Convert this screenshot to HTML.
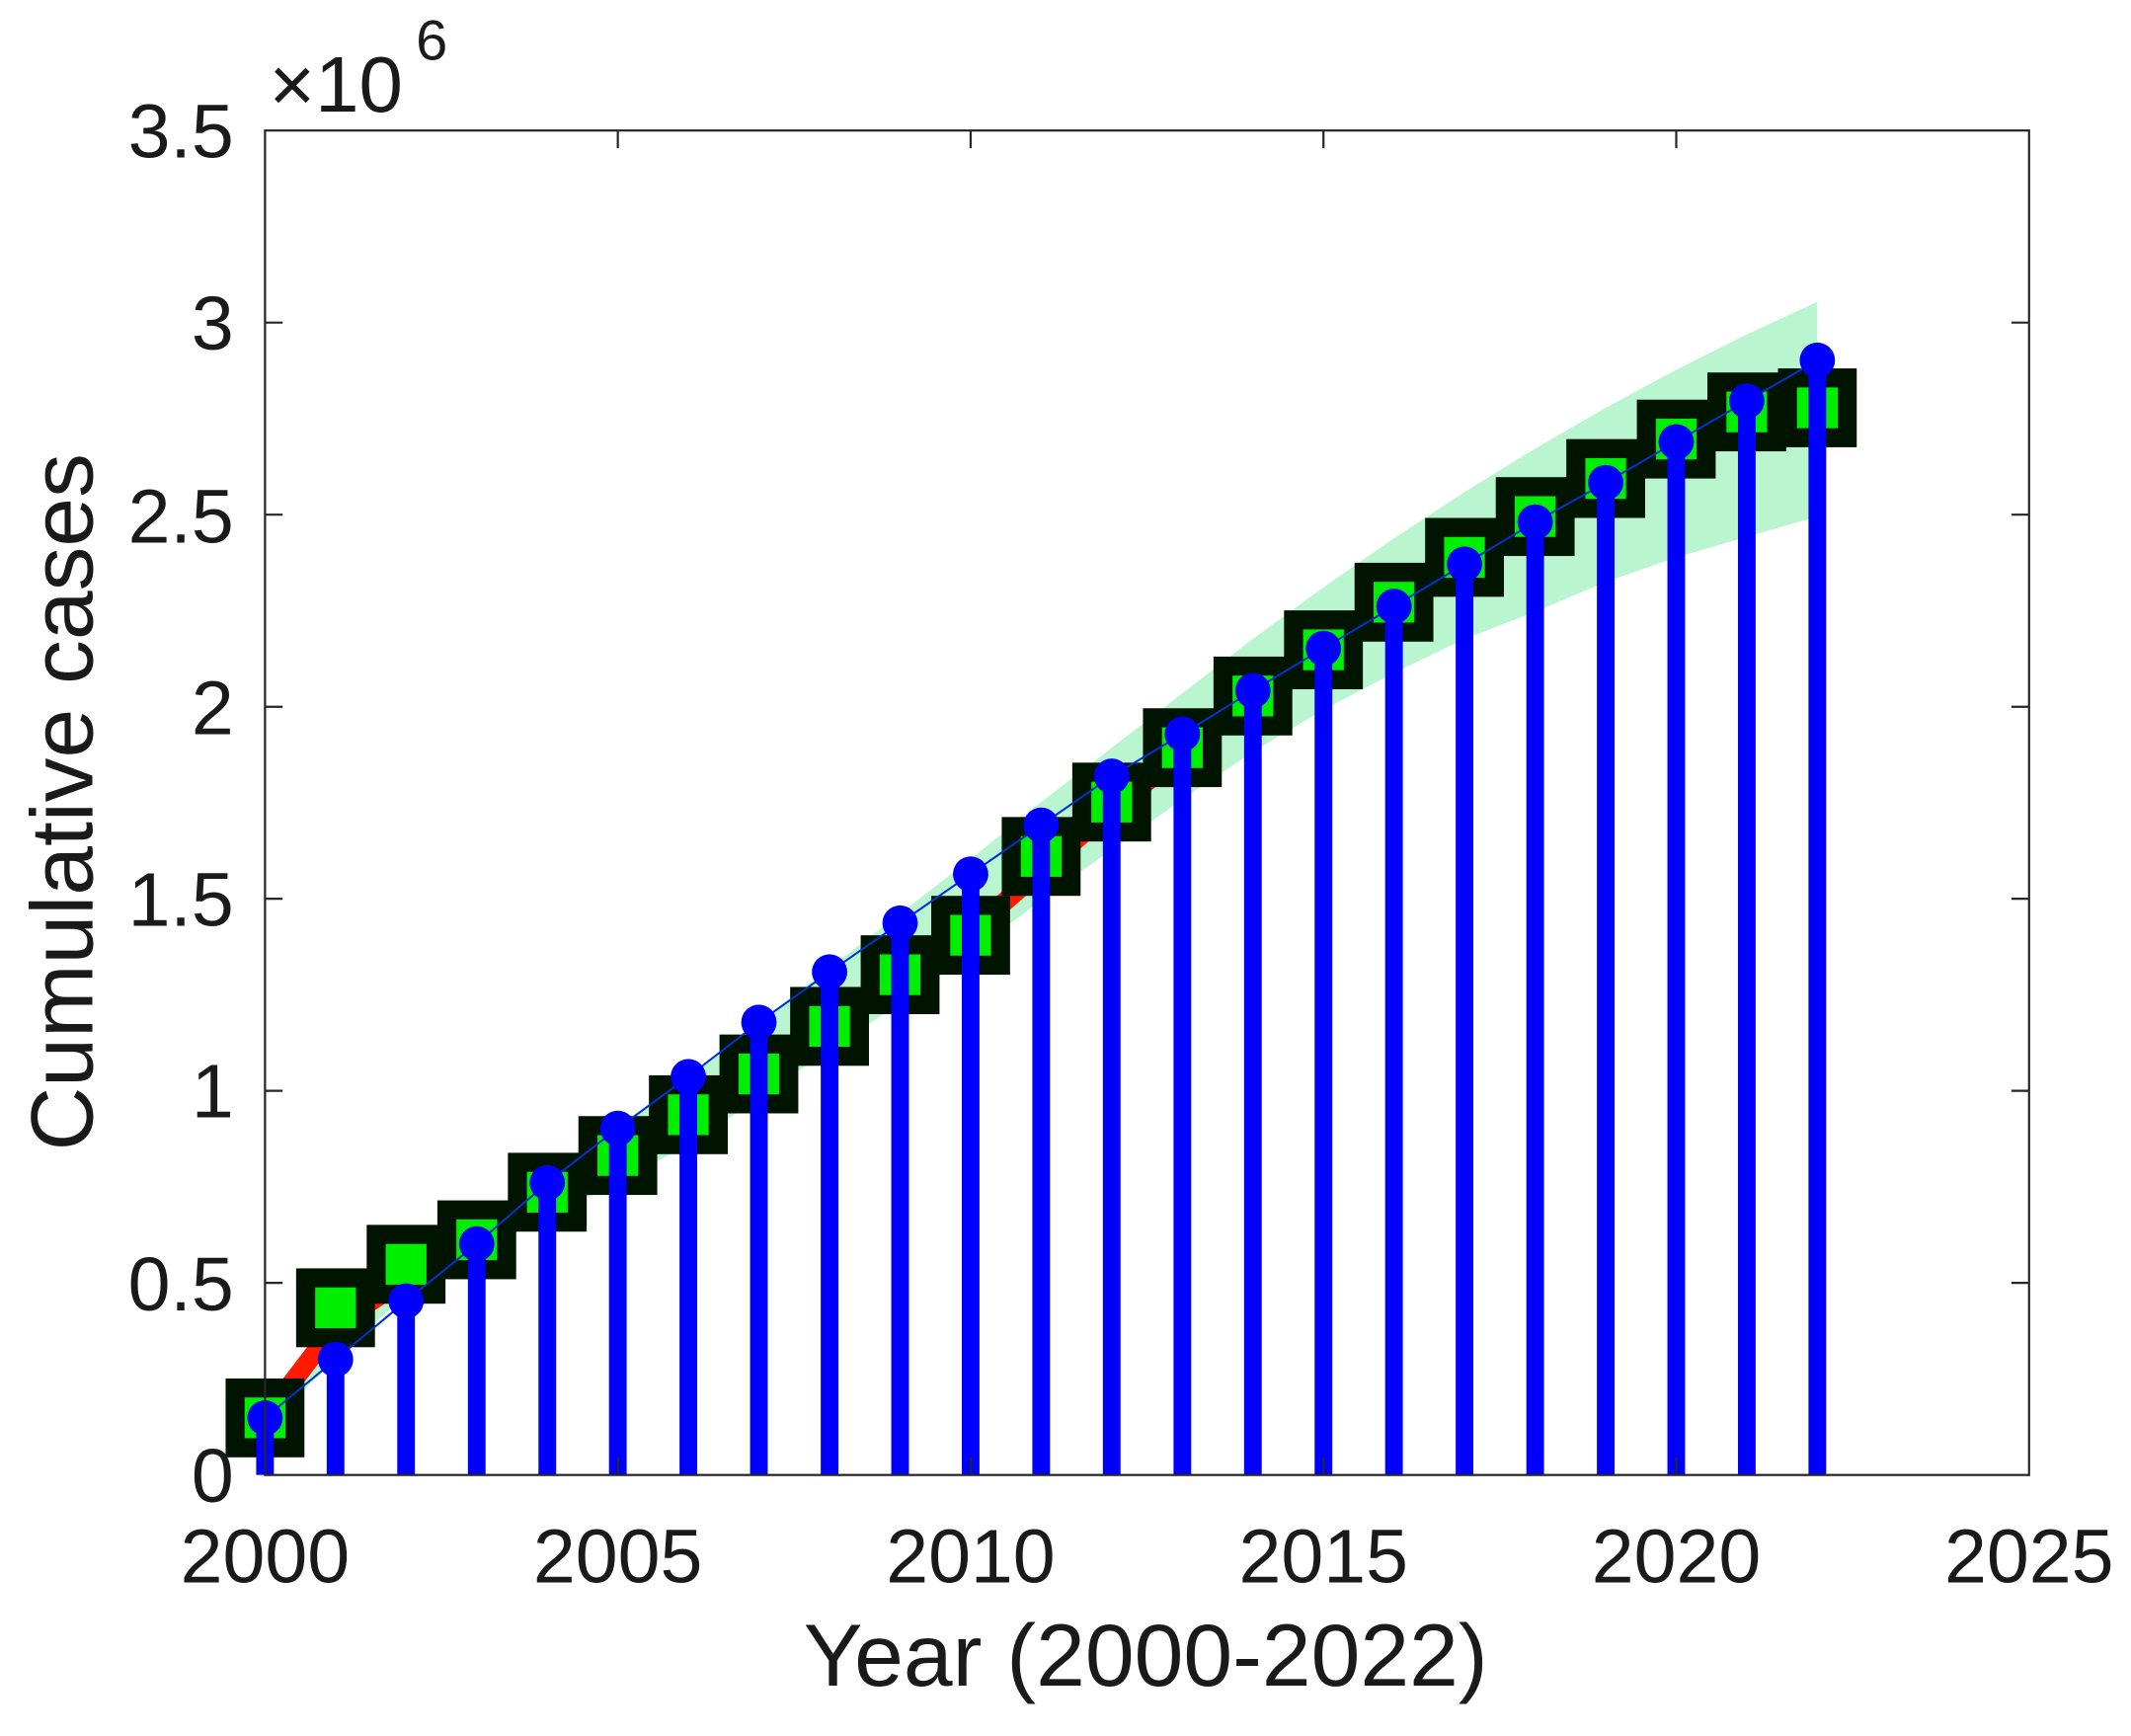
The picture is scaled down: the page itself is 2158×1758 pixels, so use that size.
<!DOCTYPE html>
<html><head><meta charset="utf-8"><style>
html,body{margin:0;padding:0;background:#fff;}
svg{display:block;}
text{font-family:"Liberation Sans",sans-serif;fill:#1a1a1a;}
</style></head><body>
<svg width="2158" height="1758" viewBox="0 0 1568 1277" preserveAspectRatio="none" xmlns="http://www.w3.org/2000/svg">
<rect x="0" y="0" width="1568" height="1277" fill="#fff"/>
<polygon fill="#b9f5cf" points="195,1045 246.9,990 298.8,945 350.8,905 402.7,868 454.6,830 506.5,792 558.4,752 610.4,712 662.3,672 714.2,632 766.1,590 818,550 870,510 921.9,470 973.8,432 1025.7,396 1077.6,362 1129.6,330 1181.5,300 1233.4,272 1285.3,246 1337.2,222 1337.2,380 1285.3,395 1233.4,410 1181.5,428 1129.6,450 1077.6,470 1025.7,495 973.8,522 921.9,553 870,588 818,625 766.1,662 714.2,702 662.3,738 610.4,772 558.4,808 506.5,842 454.6,870 402.7,895 350.8,922 298.8,952 246.9,1000 195,1050"/>
<polyline fill="none" stroke="#ff1a00" stroke-width="14" points="195,1043 246.9,975 298.8,940 350.8,910 402.7,878 454.6,848 506.5,816 558.4,785 610.4,752 662.3,718 714.2,685 766.1,640 818,595 870,555"/>
<g fill="#00ee00" stroke="#001400" stroke-width="14">
<rect x="173" y="1021" width="44" height="44"/>
<rect x="224.9" y="940" width="44" height="44"/>
<rect x="276.8" y="908" width="44" height="44"/>
<rect x="328.8" y="890" width="44" height="44"/>
<rect x="380.7" y="855" width="44" height="44"/>
<rect x="432.6" y="828" width="44" height="44"/>
<rect x="484.5" y="798" width="44" height="44"/>
<rect x="536.4" y="768" width="44" height="44"/>
<rect x="588.4" y="733" width="44" height="44"/>
<rect x="640.3" y="695" width="44" height="44"/>
<rect x="692.2" y="666" width="44" height="44"/>
<rect x="744.1" y="608" width="44" height="44"/>
<rect x="796" y="568" width="44" height="44"/>
<rect x="848" y="528" width="44" height="44"/>
<rect x="899.9" y="490" width="44" height="44"/>
<rect x="951.8" y="456" width="44" height="44"/>
<rect x="1003.7" y="421" width="44" height="44"/>
<rect x="1055.6" y="388" width="44" height="44"/>
<rect x="1107.6" y="358" width="44" height="44"/>
<rect x="1159.5" y="330" width="44" height="44"/>
<rect x="1211.4" y="301" width="44" height="44"/>
<rect x="1263.3" y="281" width="44" height="44"/>
<rect x="1315.2" y="278" width="44" height="44"/>
</g>
<polyline fill="none" stroke="#0033cc" stroke-width="1.5" points="195,1043 246.9,1000 298.8,957 350.8,915 402.7,870 454.6,830 506.5,792 558.4,752 610.4,715 662.3,679 714.2,643 766.1,607 818,571 870,540 921.9,508 973.8,477 1025.7,446 1077.6,415 1129.6,384 1181.5,355 1233.4,325 1285.3,295 1337.2,265"/>
<g stroke="#0000ff" stroke-width="13">
<line x1="195" y1="1085" x2="195" y2="1043"/>
<line x1="246.9" y1="1085" x2="246.9" y2="1000"/>
<line x1="298.8" y1="1085" x2="298.8" y2="957"/>
<line x1="350.8" y1="1085" x2="350.8" y2="915"/>
<line x1="402.7" y1="1085" x2="402.7" y2="870"/>
<line x1="454.6" y1="1085" x2="454.6" y2="830"/>
<line x1="506.5" y1="1085" x2="506.5" y2="792"/>
<line x1="558.4" y1="1085" x2="558.4" y2="752"/>
<line x1="610.4" y1="1085" x2="610.4" y2="715"/>
<line x1="662.3" y1="1085" x2="662.3" y2="679"/>
<line x1="714.2" y1="1085" x2="714.2" y2="643"/>
<line x1="766.1" y1="1085" x2="766.1" y2="607"/>
<line x1="818" y1="1085" x2="818" y2="571"/>
<line x1="870" y1="1085" x2="870" y2="540"/>
<line x1="921.9" y1="1085" x2="921.9" y2="508"/>
<line x1="973.8" y1="1085" x2="973.8" y2="477"/>
<line x1="1025.7" y1="1085" x2="1025.7" y2="446"/>
<line x1="1077.6" y1="1085" x2="1077.6" y2="415"/>
<line x1="1129.6" y1="1085" x2="1129.6" y2="384"/>
<line x1="1181.5" y1="1085" x2="1181.5" y2="355"/>
<line x1="1233.4" y1="1085" x2="1233.4" y2="325"/>
<line x1="1285.3" y1="1085" x2="1285.3" y2="295"/>
<line x1="1337.2" y1="1085" x2="1337.2" y2="265"/>
</g>
<g fill="#0000ff">
<circle cx="195" cy="1043" r="13"/><circle cx="246.9" cy="1000" r="13"/><circle cx="298.8" cy="957" r="13"/><circle cx="350.8" cy="915" r="13"/><circle cx="402.7" cy="870" r="13"/><circle cx="454.6" cy="830" r="13"/><circle cx="506.5" cy="792" r="13"/><circle cx="558.4" cy="752" r="13"/><circle cx="610.4" cy="715" r="13"/><circle cx="662.3" cy="679" r="13"/><circle cx="714.2" cy="643" r="13"/><circle cx="766.1" cy="607" r="13"/><circle cx="818" cy="571" r="13"/><circle cx="870" cy="540" r="13"/><circle cx="921.9" cy="508" r="13"/><circle cx="973.8" cy="477" r="13"/><circle cx="1025.7" cy="446" r="13"/><circle cx="1077.6" cy="415" r="13"/><circle cx="1129.6" cy="384" r="13"/><circle cx="1181.5" cy="355" r="13"/><circle cx="1233.4" cy="325" r="13"/><circle cx="1285.3" cy="295" r="13"/><circle cx="1337.2" cy="265" r="13"/>
</g>
<rect x="195" y="96" width="1298" height="989" fill="none" stroke="#262626" stroke-width="1.6"/>
<g stroke="#262626" stroke-width="1.6">
<line x1="195" y1="943.7" x2="208" y2="943.7"/><line x1="1493" y1="943.7" x2="1480" y2="943.7"/>
<line x1="195" y1="802.4" x2="208" y2="802.4"/><line x1="1493" y1="802.4" x2="1480" y2="802.4"/>
<line x1="195" y1="661.1" x2="208" y2="661.1"/><line x1="1493" y1="661.1" x2="1480" y2="661.1"/>
<line x1="195" y1="519.9" x2="208" y2="519.9"/><line x1="1493" y1="519.9" x2="1480" y2="519.9"/>
<line x1="195" y1="378.6" x2="208" y2="378.6"/><line x1="1493" y1="378.6" x2="1480" y2="378.6"/>
<line x1="195" y1="237.3" x2="208" y2="237.3"/><line x1="1493" y1="237.3" x2="1480" y2="237.3"/>
<line x1="454.6" y1="1085" x2="454.6" y2="1072"/><line x1="454.6" y1="96" x2="454.6" y2="109"/>
<line x1="714.2" y1="1085" x2="714.2" y2="1072"/><line x1="714.2" y1="96" x2="714.2" y2="109"/>
<line x1="973.8" y1="1085" x2="973.8" y2="1072"/><line x1="973.8" y1="96" x2="973.8" y2="109"/>
<line x1="1233.4" y1="1085" x2="1233.4" y2="1072"/><line x1="1233.4" y1="96" x2="1233.4" y2="109"/>
</g>
<g font-size="56" text-anchor="end">
<text x="172" y="1105">0</text>
<text x="172" y="964">0.5</text>
<text x="172" y="822">1</text>
<text x="172" y="681">1.5</text>
<text x="172" y="540">2</text>
<text x="172" y="399">2.5</text>
<text x="172" y="257">3</text>
<text x="172" y="116">3.5</text>
</g>
<g font-size="56" text-anchor="middle">
<text x="195" y="1164">2000</text>
<text x="454.6" y="1164">2005</text>
<text x="714.2" y="1164">2010</text>
<text x="973.8" y="1164">2015</text>
<text x="1233.4" y="1164">2020</text>
<text x="1493" y="1164">2025</text>
</g>
<text x="198" y="82" font-size="58">×10</text>
<text x="306" y="44" font-size="42">6</text>
<text x="843" y="1240" font-size="65" text-anchor="middle">Year (2000-2022)</text>
<text transform="translate(68,590) rotate(-90)" font-size="65" text-anchor="middle">Cumulative cases</text>
</svg>
</body></html>
